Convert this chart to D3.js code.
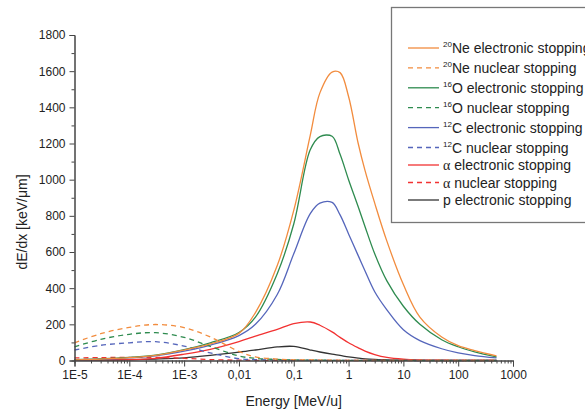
<!DOCTYPE html>
<html>
<head>
<meta charset="utf-8">
<script src="https://cdn.jsdelivr.net/npm/d3@7"></script>
<style>
  body { margin: 0; background: #fff; }
  svg { display: block; font-family: "Liberation Sans", Arial, sans-serif; }
</style>
</head>
<body>
<div id="chart"></div>
<script>
// energy grid in MeV/u
var energy = [1e-5, 3e-5, 1e-4, 3e-4, 1e-3, 3e-3, 0.01, 0.02, 0.05, 0.1, 0.2, 0.3, 0.5, 0.7,
              1, 1.5, 2, 3, 5, 10, 20, 50, 100, 200, 500]

// stopping power, keV/um
var neElec    = [4, 8, 16, 28, 58, 92, 150, 265, 525, 830, 1245, 1480, 1595, 1592, 1460, 1200, 1050, 870, 660, 420, 240, 130, 82, 55, 26]
var neNucl    = [98, 148, 183, 199, 182, 130, 50, 20, 8, 4, 3, 2, 1.5, 1.2, 1, 0.8, 0.6, 0.5, 0.4, 0.3, 0.2, 0.1, 0.1, 0.1, 0.1]
var oElec     = [5, 9, 17, 30, 60, 98, 155, 240, 480, 755, 1165, 1238, 1240, 1140, 1000, 850, 740, 590, 440, 300, 200, 115, 76, 48, 20]
var oNucl     = [76, 117, 145, 154, 128, 78, 25, 12, 6, 3, 2, 1.5, 1.2, 1, 0.8, 0.6, 0.5, 0.4, 0.3, 0.2, 0.1, 0.1, 0.1, 0.1, 0.1]
var cElec     = [4, 7, 14, 26, 52, 85, 138, 200, 365, 590, 812, 870, 874, 805, 700, 580, 495, 380, 280, 170, 110, 65, 42, 27, 14]
var cNucl     = [58, 84, 98, 104, 80, 42, 10, 5, 3, 2, 1.5, 1.2, 1, 0.8, 0.6, 0.5, 0.4, 0.3, 0.2, 0.2, 0.1, 0.1, 0.1, 0.1, 0.1]
var alphaElec = [2, 3, 5, 12, 35, 62, 105, 135, 172, 204, 213, 195, 158, 128, 98, 70, 52, 33, 17, 7, 3, 1.5, 1, 0.6, 0.3]
var alphaNucl = [14, 16, 17, 17, 12, 5, 2, 1, 0.5, 0.3, 0.2, 0.2, 0.1, 0.1, 0.1, 0.1, 0.1, 0.1, 0.1, 0.1, 0.1, 0.1, 0.1, 0.1, 0.1]
var pElec     = [1, 2, 4, 8, 15, 28, 46, 58, 75, 78, 58, 47, 35, 28, 20, 13, 9, 6, 4, 2, 1, 0.5, 0.3, 0.2, 0.1]

var xTicks = [1e-5, 1e-4, 1e-3, 0.01, 0.1, 1, 10, 100, 1000]
var xTickLabels = ['1E-5', '1E-4', '1E-3', '0,01', '0,1', '1', '10', '100', '1000']
var yTicks = [0, 200, 400, 600, 800, 1000, 1200, 1400, 1600, 1800]

var series = [
    {iso: '20', name: 'Ne electronic stopping', values: neElec, color: '#f28c3e', dash: null},
    {iso: '20', name: 'Ne nuclear stopping', values: neNucl, color: '#f28c3e', dash: '5,4'},
    {iso: '16', name: 'O electronic stopping', values: oElec, color: '#2e8b4f', dash: null},
    {iso: '16', name: 'O nuclear stopping', values: oNucl, color: '#2e8b4f', dash: '5,4'},
    {iso: '12', name: 'C electronic stopping', values: cElec, color: '#5566bb', dash: null},
    {iso: '12', name: 'C nuclear stopping', values: cNucl, color: '#5566bb', dash: '5,4'},
    {iso: '', greek: 'α', name: ' electronic stopping', values: alphaElec, color: '#f23232', dash: null},
    {iso: '', greek: 'α', name: ' nuclear stopping', values: alphaNucl, color: '#f23232', dash: '5,4'},
    {iso: '', name: 'p electronic stopping', values: pElec, color: '#333333', dash: null}
]

var width = 585, height = 412

var svg = d3.select('#chart').append('svg')
    .attr('width', width)
    .attr('height', height)

var x = d3.scaleLog().domain([1e-5, 1000]).range([74.5, 513])
var y = d3.scaleLinear().domain([0, 1800]).range([360.5, 35])

var line = d3.line()
    .x(function(d) { return x(d[0]) })
    .y(function(d) { return y(d[1]) })
    .curve(d3.curveCatmullRom.alpha(0.5))

// curves: draw in reverse so Ne sits on top
var curves = svg.append('g')
series.slice().reverse().forEach(function(s) {
    curves.append('path')
        .datum(energy.map(function(e, i) { return [e, s.values[i]] }))
        .attr('d', line)
        .attr('fill', 'none')
        .attr('stroke', s.color)
        .attr('stroke-width', 1.3)
        .attr('stroke-dasharray', s.dash)
})

// axes
var axisColor = '#444'
var minorX = []
for (var p = -5; p < 3; p++) {
    for (var k = 2; k < 10; k++) minorX.push(k * Math.pow(10, p))
}
var gx = svg.append('g').attr('transform', 'translate(0,' + y(0) + ')')
gx.call(d3.axisBottom(x).tickValues(minorX).tickSize(3).tickFormat(''))
gx.append('g').call(d3.axisBottom(x).tickValues(xTicks).tickSize(6).tickPadding(4)
    .tickFormat(function(d, i) { return xTickLabels[i] }))
gx.selectAll('.domain').attr('stroke', axisColor)
gx.selectAll('line').attr('stroke', axisColor)
gx.selectAll('text').attr('fill', '#222').style('font-size', '12px')
    .style('font-family', '"Liberation Sans", Arial, sans-serif')

var minorY = d3.range(100, 1800, 200)
var gy = svg.append('g').attr('transform', 'translate(' + x(1e-5) + ',0)')
gy.call(d3.axisLeft(y).tickValues(minorY).tickSize(3).tickFormat(''))
gy.append('g').call(d3.axisLeft(y).tickValues(yTicks).tickSize(5).tickPadding(4)
    .tickFormat(d3.format('d')))
gy.selectAll('.domain').attr('stroke', axisColor)
gy.selectAll('line').attr('stroke', axisColor)
gy.selectAll('text').attr('fill', '#222').style('font-size', '12px')
    .style('font-family', '"Liberation Sans", Arial, sans-serif')

// axis titles
svg.append('text')
    .attr('x', (x.range()[0] + x.range()[1]) / 2)
    .attr('y', 406)
    .attr('text-anchor', 'middle')
    .attr('fill', '#222')
    .style('font-size', '14px')
    .text('Energy [MeV/u]')

svg.append('text')
    .attr('transform', 'translate(27,' + 222 + ') rotate(-90)')
    .attr('text-anchor', 'middle')
    .attr('fill', '#222')
    .style('font-size', '14px')
    .text('dE/dx [keV/μm]')

// legend (box runs off the right edge, as in the source figure)
var legend = svg.append('g')
legend.append('rect')
    .attr('x', 391.5).attr('y', 7.5)
    .attr('width', 220).attr('height', 215)
    .attr('fill', '#fff')
    .attr('stroke', '#777')
    .attr('stroke-width', 1.3)

var ly = 48
series.forEach(function(s, i) {
    if (i > 0) ly += s.iso ? 19.9 : 17.5
    legend.append('line')
        .attr('x1', 408).attr('x2', 439)
        .attr('y1', ly).attr('y2', ly)
        .attr('stroke', s.color)
        .attr('stroke-width', 1.3)
        .attr('stroke-dasharray', s.dash)
    var t = legend.append('text')
        .attr('x', 443).attr('y', ly + 5)
        .attr('fill', '#222')
        .style('font-size', '14px')
    if (s.iso) {
        t.append('tspan').attr('dy', -6).style('font-size', '8px').text(s.iso)
        t.append('tspan').attr('dy', 6).text(s.name)
    } else if (s.greek) {
        t.append('tspan').style('font-family', '"Liberation Serif", serif').text(s.greek)
        t.append('tspan').text(s.name)
    } else {
        t.text(s.name)
    }
})
</script>
</body>
</html>
